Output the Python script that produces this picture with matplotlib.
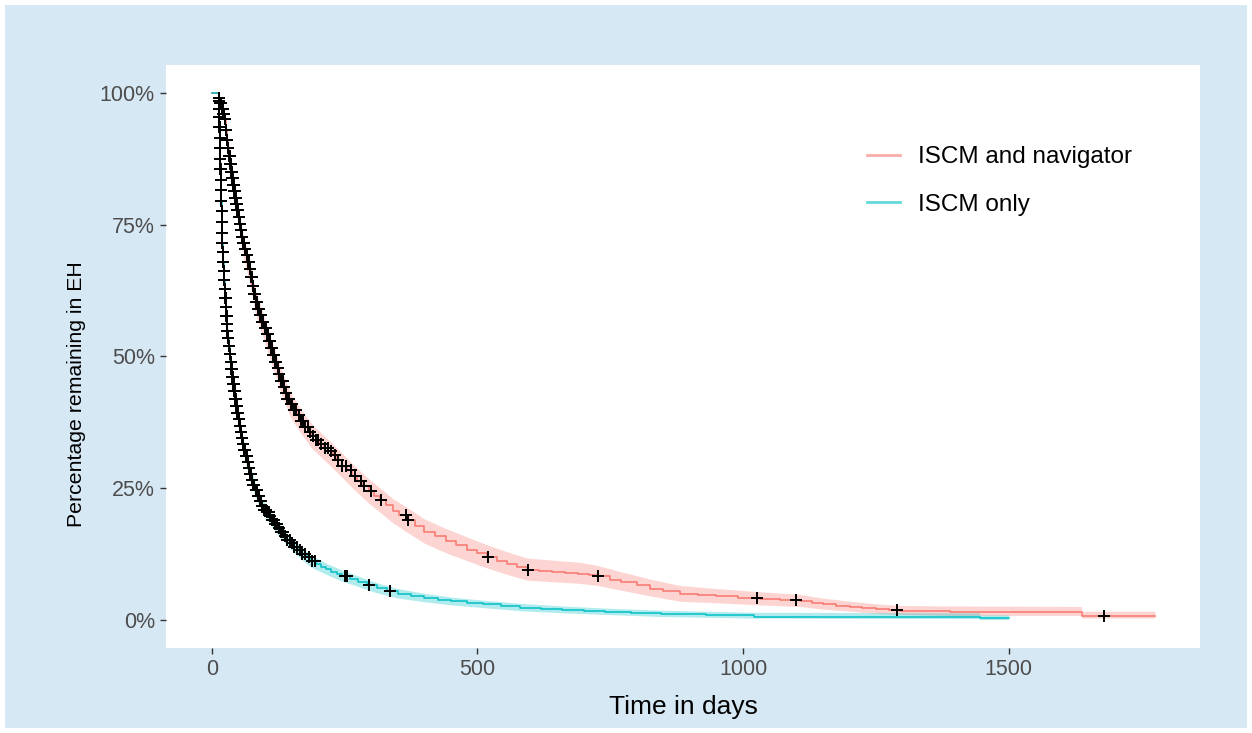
import numpy as np
import matplotlib
matplotlib.use('Agg')
import matplotlib.pyplot as plt
from matplotlib.patches import Rectangle

plt.rcParams['font.family'] = ['Liberation Sans', 'DejaVu Sans']

# ---- ISCM and navigator (red) : KM steps ----
nav_t = [0, 11, 13, 15, 18, 21, 24, 26, 28, 30, 32, 34, 36, 38, 40, 42, 44, 46, 48, 50, 52, 54, 56,
         58, 61, 64, 67, 70, 73, 76, 79, 82, 86, 90, 94, 98, 102, 106, 110, 114, 118, 122, 126, 130,
         134, 138, 142, 147, 153, 160, 167, 174, 181, 188, 195, 203, 211, 219, 228, 236, 245, 254,
         264, 274, 285, 295, 305, 316, 328, 340, 353, 367, 383, 400, 420, 440, 460, 480, 500, 518,
         537, 555, 574, 593, 615, 640, 665, 690, 710, 725, 750, 770, 800, 825, 850, 881, 915, 950,
         990, 1032, 1070, 1107, 1130, 1150, 1175, 1202, 1225, 1250, 1275, 1296, 1340, 1390, 1638,
         1776]
nav_s = [1.0, 1.0, 0.99, 0.98, 0.97, 0.96, 0.95, 0.93, 0.91, 0.895, 0.88, 0.865, 0.85, 0.838, 0.826,
         0.813, 0.80, 0.789, 0.777, 0.765, 0.752, 0.74, 0.727, 0.715, 0.703, 0.692, 0.68, 0.666,
         0.65, 0.634, 0.618, 0.603, 0.59, 0.578, 0.566, 0.554, 0.543, 0.53, 0.517, 0.503, 0.49,
         0.478, 0.466, 0.454, 0.442, 0.43, 0.419, 0.409, 0.399, 0.39, 0.378, 0.367, 0.357, 0.349,
         0.342, 0.334, 0.327, 0.32, 0.313, 0.303, 0.293, 0.284, 0.274, 0.264, 0.254, 0.245, 0.236,
         0.228, 0.218, 0.208, 0.199, 0.19, 0.179, 0.168, 0.159, 0.15, 0.142, 0.134, 0.127, 0.12,
         0.113, 0.107, 0.101, 0.096, 0.094, 0.092, 0.09, 0.088, 0.085, 0.083, 0.077, 0.072, 0.066,
         0.06, 0.055, 0.049, 0.047, 0.045, 0.042, 0.04, 0.038, 0.036, 0.033, 0.03, 0.027, 0.025,
         0.023, 0.021, 0.019, 0.018, 0.017, 0.016, 0.008, 0.008]
# confidence band
nav_band_t = [0, 11, 24, 30, 40, 50, 58, 70, 82, 98, 114, 130, 147, 167, 188, 211, 236, 264, 295,
              316, 340, 367, 400, 440, 480, 518, 555, 593, 640, 690, 725, 770, 825, 881, 950, 1032,
              1107, 1150, 1202, 1250, 1296, 1390, 1637, 1638, 1776]
nav_lo = [1.0, 1.0, 0.937, 0.878, 0.807, 0.744, 0.693, 0.643, 0.58, 0.531, 0.48, 0.431, 0.386,
          0.355, 0.326, 0.304, 0.28, 0.251, 0.222, 0.205, 0.185, 0.167, 0.146, 0.128, 0.113, 0.099,
          0.087, 0.076, 0.073, 0.07, 0.066, 0.057, 0.046, 0.036, 0.033, 0.029, 0.026, 0.021, 0.017,
          0.013, 0.011, 0.009, 0.009, 0.004, 0.004]
nav_hi = [1.0, 1.0, 0.967, 0.912, 0.845, 0.784, 0.735, 0.687, 0.625, 0.577, 0.526, 0.477, 0.432,
          0.401, 0.372, 0.35, 0.326, 0.297, 0.268, 0.251, 0.231, 0.214, 0.192, 0.174, 0.158, 0.143,
          0.13, 0.118, 0.114, 0.11, 0.104, 0.092, 0.078, 0.066, 0.06, 0.054, 0.049, 0.042, 0.036,
          0.031, 0.028, 0.027, 0.026, 0.017, 0.017]
nav_cens = [13, 14, 15, 16, 17, 18, 19, 20, 21, 22, 23, 24, 25, 26, 27, 28, 29, 30, 31, 32, 33, 34,
            35, 36, 37, 38, 39, 40, 41, 42, 43, 44, 45, 46, 47, 48, 49, 50, 51, 52, 53, 55, 56, 57,
            59, 60, 62, 63, 65, 66, 68, 69, 71, 72, 74, 75, 77, 78, 80, 81, 83, 85, 87, 89, 91, 93,
            95, 97, 99, 101, 103, 105, 107, 109, 111, 113, 115, 117, 119, 121, 124, 127, 130, 133,
            136, 139, 142, 145, 148, 151, 155, 159, 163, 167, 171, 175, 180, 185, 190, 195, 200,
            206, 212, 218, 224, 231, 238, 245, 253, 262, 270, 280, 287, 300, 319, 366, 370, 520,
            595, 727, 1027, 1100, 1290, 1680]

# ---- ISCM only (teal) : KM steps ----
only_t = [0, 12, 12.5, 13, 13.5, 14, 14.5, 15, 15.5, 16, 16.5, 17, 17.5, 18, 18.5, 19, 19.5, 20, 21,
          22, 23, 24, 25, 26, 27, 28, 29, 30, 31.5, 33, 34.5, 36, 38, 40, 42, 44, 46, 48, 50, 52,
          54, 56, 58, 60, 63, 66, 69, 72, 75, 78, 82, 86, 90, 94, 98, 103, 108, 113, 118, 124, 130,
          136, 142, 148, 155, 162, 170, 178, 186, 195, 205, 215, 225, 235, 245, 260, 275, 292, 310,
          330, 350, 375, 400, 425, 450, 480, 510, 545, 580, 620, 660, 700, 740, 790, 845, 930,
          1020, 1446, 1500]
only_s = [1.0, 1.0, 0.985, 0.97, 0.955, 0.935, 0.915, 0.895, 0.875, 0.855, 0.835, 0.815, 0.795,
          0.775, 0.755, 0.735, 0.715, 0.698, 0.68, 0.662, 0.645, 0.628, 0.61, 0.593, 0.577, 0.562,
          0.548, 0.535, 0.52, 0.505, 0.49, 0.476, 0.462, 0.448, 0.434, 0.42, 0.406, 0.393, 0.381,
          0.369, 0.357, 0.345, 0.334, 0.323, 0.312, 0.3, 0.288, 0.277, 0.266, 0.256, 0.246, 0.236,
          0.226, 0.217, 0.209, 0.205, 0.198, 0.19, 0.183, 0.175, 0.167, 0.16, 0.153, 0.146, 0.139,
          0.133, 0.126, 0.12, 0.112, 0.106, 0.101, 0.097, 0.092, 0.088, 0.084, 0.078, 0.072, 0.066,
          0.061, 0.055, 0.05, 0.046, 0.042, 0.039, 0.036, 0.033, 0.030, 0.027, 0.024, 0.021, 0.019,
          0.017, 0.015, 0.013, 0.011, 0.010, 0.007, 0.004, 0.004]
only_band_t = [0, 12, 13, 15, 17, 19, 21, 24, 28, 33, 38, 44, 50, 56, 63, 72, 82, 94, 108, 124, 142,
               162, 186, 215, 245, 275, 310, 350, 400, 450, 510, 580, 660, 740, 845, 1020, 1445,
               1446, 1500]
only_lo = [1.0, 1.0, 0.96, 0.88, 0.80, 0.72, 0.665, 0.612, 0.546, 0.49, 0.447, 0.405, 0.366, 0.331,
           0.298, 0.263, 0.233, 0.204, 0.184, 0.162, 0.141, 0.121, 0.101, 0.087, 0.074, 0.064,
           0.052, 0.042, 0.035, 0.029, 0.024, 0.018, 0.014, 0.011, 0.007, 0.004, 0.003, 0.001,
           0.001]
only_hi = [1.0, 1.0, 0.98, 0.91, 0.83, 0.75, 0.695, 0.643, 0.578, 0.52, 0.477, 0.435, 0.396, 0.36,
           0.326, 0.291, 0.26, 0.23, 0.21, 0.188, 0.165, 0.145, 0.124, 0.108, 0.095, 0.084, 0.071,
           0.06, 0.051, 0.044, 0.038, 0.032, 0.027, 0.023, 0.019, 0.015, 0.014, 0.010, 0.010]
only_cens = [12.5, 13, 13.2, 13.5, 13.8, 14, 14.3, 14.6, 15, 15.3, 15.6, 16, 16.3, 16.6, 17, 17.3,
             17.6, 18, 18.3, 18.6, 19, 19.5, 20, 20.5, 21, 21.5, 22, 22.5, 23, 23.5, 24, 25, 25.5,
             26, 27, 27.5, 28, 29, 30, 31, 32, 33, 34, 35, 36, 37, 38, 39, 40, 41, 42, 43, 44, 45,
             46, 47, 48, 49, 50, 51, 52, 53, 54, 55, 56, 57, 58, 60, 61, 62, 64, 65, 67, 68, 70,
             72, 74, 76, 78, 80, 82, 84, 86, 88, 90, 92, 95, 98, 101, 104, 107, 110, 113, 116, 119,
             122, 126, 130, 134, 138, 142, 146, 150, 155, 160, 165, 170, 176, 182, 188, 194, 250,
             255, 295, 335]

groups = [
    ('ISCM and navigator', '#F8766D', nav_t, nav_s, nav_band_t, nav_lo, nav_hi, nav_cens),
    ('ISCM only', '#00BFC4', only_t, only_s, only_band_t, only_lo, only_hi, only_cens),
]

fig = plt.figure(figsize=(12.52, 7.33), dpi=100, facecolor='white')
fig.patches.append(Rectangle((5 / 1252, 5 / 733), 1242 / 1252, 723 / 733, transform=fig.transFigure,
                             facecolor='#D7E8F5', edgecolor='none', zorder=-1))
ax = fig.add_axes([166 / 1252, 85 / 733, 1034 / 1252, 583 / 733])
ax.set_facecolor('white')

handles = []
for name, col, t, s, bt, lo, hi, cens in groups:
    t = np.array(t, dtype=float)
    s = np.array(s)
    ax.fill_between(bt, lo, hi, color=col, alpha=0.3, lw=0)
    ax.step(t, s, where='post', color=col, lw=1.1)
    idx = np.searchsorted(t, cens, side='right') - 1
    ax.plot(cens, s[idx], ls='none', marker='+', ms=8, mew=1.4, color='black', zorder=5)
    h, = ax.plot([], [], color=col, lw=2, alpha=0.6)
    handles.append((h, name))

ax.set_xlim(-86.6, 1860.6)
ax.set_ylim(-0.0527, 1.0527)
ax.set_xticks([0, 500, 1000, 1500])
ax.set_yticks([0, 0.25, 0.5, 0.75, 1.0])
ax.set_yticklabels(['0%', '25%', '50%', '75%', '100%'])
for sp in ax.spines.values():
    sp.set_visible(False)
ax.tick_params(axis='both', length=4, width=1, color='#333333', labelcolor='#4D4D4D',
               labelsize=15.5, pad=4)
ax.set_xlabel('Time in days', fontsize=19, labelpad=11)
ax.set_ylabel('Percentage remaining in EH', fontsize=15.3)
ax.yaxis.set_label_coords(-0.077, 0.435)

leg = ax.legend([h for h, _ in handles], [n for _, n in handles], loc='upper left',
                bbox_to_anchor=(0.678, 0.861), frameon=False, fontsize=17.5,
                handlelength=1.36, handletextpad=0.74, labelspacing=1.05,
                borderpad=0, borderaxespad=0)

fig.savefig('out.png', dpi=100, facecolor=fig.get_facecolor())
